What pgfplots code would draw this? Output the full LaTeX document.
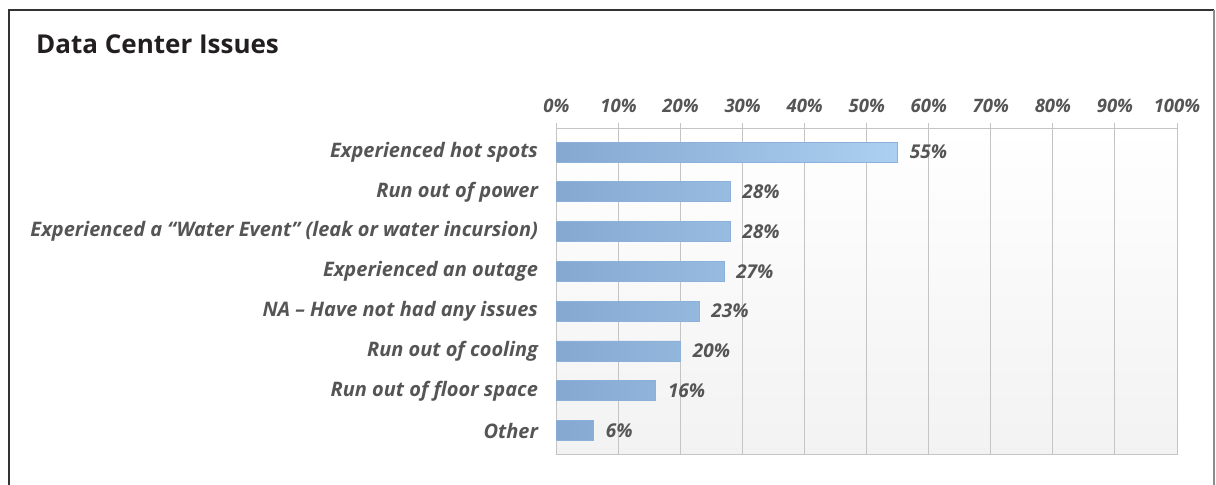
\documentclass[border=0pt]{standalone}
\usepackage{fontspec}
\setmainfont{Open Sans}
\usepackage{pgfplots}
\pgfplotsset{compat=1.18}
\definecolor{txt}{HTML}{555555}
\definecolor{ttl}{HTML}{231F20}
\definecolor{barL}{HTML}{84A8D0}
\definecolor{barR}{HTML}{ACD0F1}
\definecolor{barD}{HTML}{8BB1DB}
\definecolor{gridc}{HTML}{C4C4C4}
\begin{document}
\begin{tikzpicture}
\useasboundingbox (0,0) rectangle (1216bp,485bp);
\draw[color=black!80, line width=1.3bp] (9bp,0) -- (9bp,475bp) -- (1214bp,475bp);
\draw[color=black!45, line width=1.3bp] (1214bp,475bp) -- (1214bp,0);
\node[anchor=base west, inner sep=0, text=ttl, font=\fontsize{26bp}{30bp}\selectfont\bfseries] at (36bp,431bp) {Data Center Issues};
\begin{axis}[
  at={(556.5bp,31bp)}, anchor=south west,
  scale only axis, width=620.5bp, height=325bp,
  xbar, bar width=20bp,
  xmin=0, xmax=100, ymin=-0.58, ymax=7.59,
  y dir=reverse,
  ytick={0,...,7},
  yticklabels={Experienced hot spots, Run out of power, {Experienced a “Water Event” (leak or water incursion)}, Experienced an outage, NA – Have not had any issues, Run out of cooling, Run out of floor space, Other},
  xtick={0,10,...,100},
  xticklabels={0\%,10\%,20\%,30\%,40\%,50\%,60\%,70\%,80\%,90\%,100\%},
  xtick pos=upper, xticklabel pos=upper,
  xtick align=outside,
  major tick length=6bp,
  ytick style={draw=none},
  xtick style={color=gridc, line width=1bp},
  xmajorgrids, grid style={color=gridc, line width=1bp},
  axis line style={color=gridc, line width=1bp},
  axis background/.style={shade, top color=white, bottom color=black!5},
  tick label style={text=txt, font=\fontsize{20bp}{23bp}\selectfont\bfseries\itshape},
  xticklabel style={font=\fontsize{18.5bp}{21bp}\selectfont\bfseries\itshape, yshift=7bp},
  yticklabel style={xshift=-9bp},
  nodes near coords={\pgfmathprintnumber[assume math mode=true]{\pgfplotspointmeta}\%},
  nodes near coords style={text=txt, font=\fontsize{19bp}{23bp}\selectfont\bfseries\itshape, xshift=8.5bp},
]
\addplot[draw=barD, line width=0.8bp, left color=barL, right color=barR] coordinates {
  (55,0) (28,1) (28,2) (27,3) (23,4) (20,5) (16,6) (6,7)
};
\end{axis}
\end{tikzpicture}
\end{document}
